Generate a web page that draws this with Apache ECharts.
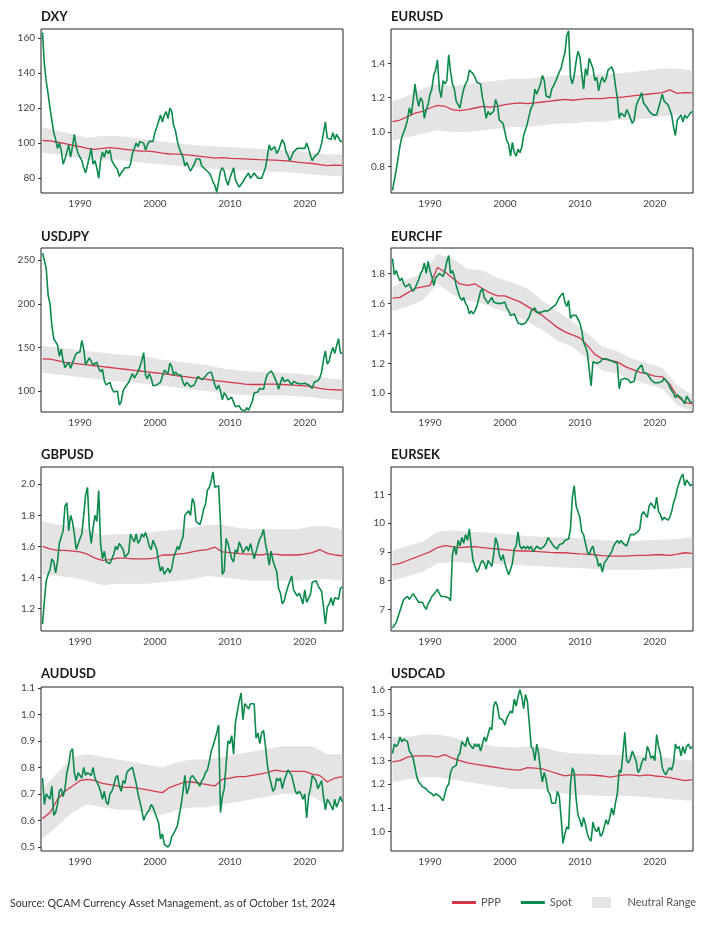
<!DOCTYPE html>
<html>
<head>
<meta charset="utf-8">
<script src="https://cdn.jsdelivr.net/npm/echarts@6/dist/echarts.min.js"></script>
<style>
  html, body { margin: 0; padding: 0; background: #fff; }
  #main { width: 716px; height: 925px; }
</style>
</head>
<body>
<div id="main"></div>
<script>
// quarterly spot samples 1985.00 .. 2025.00, annual PPP 1985..2025, biennial band 1985..2025
var yearTicks = [1990, 2000, 2010, 2020];

var dxySpot = [
  163, 145, 135, 128, 120, 113, 106, 102,   // 85-86
  97, 100, 96, 88, 91, 95, 99, 92,          // 87-88
  98, 105, 98, 94, 93, 90, 86, 83,          // 89-90
  82, 92, 97, 88, 90, 86, 80, 90,           // 91-92
  95, 92, 96, 94, 96, 90, 88, 87,           // 93-94
  85, 81, 83, 84, 86, 87, 86, 88,           // 95-96
  94, 97, 100, 98, 101, 102, 100, 96,       // 97-98
  99, 101, 102, 101, 106, 109, 110, 116,    // 99-00
  112, 116, 118, 114, 120, 118, 110, 107,   // 01-02
  101, 97, 96, 92, 87, 89, 88, 84,          // 03-04
  84, 88, 91, 90, 91, 87, 86, 85,           // 05-06
  85, 83, 81, 78, 76, 72, 73, 84,           // 07-08
  86, 84, 79, 76, 80, 83, 86, 79,           // 09-10
  78, 75, 74, 78, 80, 80, 83, 80,           // 11-12
  80, 83, 82, 80, 81, 80, 81, 86,           // 13-14
  92, 99, 96, 97, 98, 94, 96, 99,           // 15-16
  102, 100, 95, 93, 90, 90, 95, 96,         // 17-18
  97, 97, 97, 98, 97, 100, 97, 93,          // 19-20
  90, 92, 92, 94, 96, 100, 106, 112,        // 21-22
  103, 102, 102, 106, 102, 105, 105, 101,   // 23-24
  101
];
var dxyPpp = [
  101.5, 101.3, 100.5, 99.7, 98.8,
  98, 97, 96.5, 97, 97.5,
  97, 96.5, 96, 95.5, 95.5,
  95, 94.3, 93.8, 93.7, 93.5,
  93, 92.5, 92, 91.5, 91.8,
  91.3, 91.2, 91, 90.8, 90.6,
  90.5, 90.3, 90, 89.7, 89.2,
  88.8, 88.4, 87.8, 87.2, 87.5,
  87.3
];
var dxyLo = [94.5, 93.5, 92, 90.5, 90.5, 90.5, 89.5, 88.5, 88, 87, 86.5, 85.5, 85, 84.5, 84.5, 84, 83.5, 83, 82, 81.5, 81];
var dxyHi = [109, 107, 105, 103, 104, 104, 103, 102, 101, 100, 99, 98.5, 98, 97.5, 97, 96.5, 96, 95.5, 94.5, 93.5, 93.5];
var dxyTicks = [80, 100, 120, 140, 160];

var eurusdSpot = [
  0.66, 0.72, 0.78, 0.85, 0.92, 0.97, 1.00, 1.03,   // 85-86
  1.07, 1.14, 1.10, 1.18, 1.28, 1.20, 1.15, 1.20,   // 87-88
  1.18, 1.08, 1.13, 1.16, 1.22, 1.25, 1.33, 1.36,   // 89-90
  1.42, 1.25, 1.20, 1.30, 1.28, 1.30, 1.45, 1.35,   // 91-92
  1.28, 1.25, 1.18, 1.16, 1.14, 1.20, 1.25, 1.28,   // 93-94
  1.30, 1.36, 1.35, 1.34, 1.32, 1.29, 1.30, 1.28,   // 95-96
  1.20, 1.15, 1.08, 1.12, 1.10, 1.10, 1.12, 1.19,   // 97-98
  1.16, 1.07, 1.07, 1.05, 1.00, 0.95, 0.93, 0.86,   // 99-00
  0.94, 0.88, 0.86, 0.90, 0.88, 0.91, 0.98, 0.98,   // 01-02
  1.05, 1.10, 1.14, 1.16, 1.25, 1.22, 1.22, 1.28,   // 03-04
  1.33, 1.30, 1.21, 1.20, 1.20, 1.25, 1.27, 1.27,   // 05-06
  1.32, 1.35, 1.37, 1.42, 1.46, 1.56, 1.59, 1.32,   // 07-08
  1.28, 1.33, 1.41, 1.47, 1.44, 1.34, 1.25, 1.37,   // 09-10
  1.33, 1.43, 1.44, 1.37, 1.30, 1.32, 1.24, 1.29,   // 11-12
  1.32, 1.29, 1.31, 1.36, 1.37, 1.38, 1.35, 1.27,   // 13-14
  1.20, 1.08, 1.11, 1.12, 1.09, 1.13, 1.11, 1.11,   // 15-16
  1.05, 1.07, 1.15, 1.18, 1.20, 1.23, 1.17, 1.16,   // 17-18
  1.14, 1.12, 1.13, 1.10, 1.11, 1.10, 1.14, 1.18,   // 19-20
  1.22, 1.18, 1.19, 1.16, 1.13, 1.10, 1.03, 0.98,   // 21-22
  1.07, 1.08, 1.10, 1.06, 1.10, 1.08, 1.08, 1.11,   // 23-24
  1.12
];
var eurusdPpp = [
  1.06, 1.07, 1.09, 1.11, 1.12,
  1.14, 1.155, 1.15, 1.13, 1.125,
  1.13, 1.14, 1.15, 1.145, 1.15,
  1.16, 1.165, 1.17, 1.165, 1.17,
  1.175, 1.18, 1.185, 1.19, 1.185,
  1.19, 1.195, 1.195, 1.195, 1.2,
  1.2, 1.205, 1.21, 1.215, 1.22,
  1.225, 1.23, 1.245, 1.225, 1.23,
  1.228
];
var eurusdLo = [0.95, 0.97, 0.99, 1.01, 1.0, 1.0, 1.01, 1.02, 1.03, 1.03, 1.04, 1.05, 1.05, 1.06, 1.06, 1.07, 1.07, 1.08, 1.09, 1.1, 1.1];
var eurusdHi = [1.18, 1.21, 1.25, 1.28, 1.27, 1.28, 1.29, 1.3, 1.31, 1.31, 1.32, 1.33, 1.33, 1.33, 1.34, 1.34, 1.35, 1.36, 1.37, 1.37, 1.36];
var eurusdTicks = [0.8, 1.0, 1.2, 1.4];

var usdjpySpot = [
  258, 250, 240, 210, 200, 175, 160, 160,   // 85-86
  153, 140, 148, 135, 127, 125, 133, 126,   // 87-88
  128, 138, 143, 142, 145, 158, 148, 130,   // 89-90
  134, 138, 140, 130, 128, 133, 126, 122,   // 91-92
  125, 112, 107, 106, 110, 103, 99, 98,     // 93-94
  100, 84, 88, 100, 104, 107, 110, 112,     // 95-96
  120, 115, 115, 122, 128, 135, 144, 118,   // 97-98
  114, 120, 115, 106, 105, 107, 107, 110,   // 99-00
  117, 124, 124, 120, 132, 128, 118, 122,   // 01-02
  119, 118, 118, 110, 106, 110, 110, 105,   // 03-04
  104, 107, 112, 117, 116, 113, 115, 117,   // 05-06
  120, 120, 122, 115, 107, 102, 107, 100,   // 07-08
  90, 98, 95, 90, 91, 93, 87, 82,           // 09-10
  82, 83, 79, 77, 77, 81, 78, 80,           // 11-12
  88, 98, 99, 99, 103, 102, 102, 112,       // 13-14
  119, 120, 123, 120, 118, 110, 102, 104,   // 15-16
  116, 111, 112, 113, 111, 107, 111, 113,   // 17-18
  109, 111, 108, 108, 109, 108, 107, 105,   // 19-20
  103, 110, 110, 112, 115, 122, 136, 146,   // 21-22
  131, 134, 144, 150, 143, 152, 160, 144,   // 23-24
  143
];
var usdjpyPpp = [
  137, 136.5, 135, 133, 132,
  131, 130, 129, 128, 127,
  126, 125, 124, 123, 122,
  121, 120, 119, 117.5, 116.5,
  115.5, 114.5, 113.5, 112, 111,
  110, 109, 108, 107.5, 107.5,
  108, 108, 107.5, 107, 106.5,
  106, 105, 103, 102, 101.5,
  101
];
var usdjpyLo = [121, 119, 117, 115, 113, 111, 110, 108, 106, 104, 102, 100, 97, 96, 95, 95, 95, 94, 93, 91, 90];
var usdjpyHi = [152, 150, 148, 146, 144, 142, 141, 139, 136, 134, 132, 130, 126, 124, 122, 122, 121, 120, 118, 115, 113];
var usdjpyTicks = [100, 150, 200, 250];

var eurchfSpot = [
  1.90, 1.79, 1.82, 1.78, 1.75, 1.77, 1.73, 1.71,   // 85-86
  1.70, 1.73, 1.70, 1.68, 1.70, 1.71, 1.76, 1.80,   // 87-88
  1.82, 1.87, 1.80, 1.88, 1.82, 1.78, 1.72, 1.77,   // 89-90
  1.76, 1.80, 1.81, 1.78, 1.82, 1.88, 1.92, 1.80,   // 91-92
  1.82, 1.78, 1.72, 1.68, 1.64, 1.62, 1.64, 1.60,   // 93-94
  1.58, 1.53, 1.55, 1.53, 1.55, 1.58, 1.57, 1.68,   // 95-96
  1.70, 1.64, 1.62, 1.60, 1.62, 1.64, 1.61, 1.62,   // 97-98
  1.60, 1.60, 1.60, 1.60, 1.61, 1.57, 1.55, 1.52,   // 99-00
  1.53, 1.53, 1.52, 1.47, 1.47, 1.46, 1.46, 1.47,   // 01-02
  1.46, 1.51, 1.55, 1.56, 1.57, 1.54, 1.53, 1.54,   // 03-04
  1.55, 1.55, 1.55, 1.55, 1.56, 1.57, 1.57, 1.59,   // 05-06
  1.61, 1.64, 1.65, 1.67, 1.61, 1.58, 1.62, 1.50,   // 07-08
  1.52, 1.51, 1.52, 1.51, 1.47, 1.42, 1.34, 1.31,   // 09-10
  1.27, 1.26, 1.05, 1.21, 1.21, 1.20, 1.20, 1.21,   // 11-12
  1.23, 1.24, 1.23, 1.23, 1.22, 1.22, 1.21, 1.20,   // 13-14
  1.20, 1.03, 1.09, 1.09, 1.10, 1.09, 1.09, 1.07,   // 15-16
  1.07, 1.08, 1.14, 1.16, 1.17, 1.19, 1.14, 1.13,   // 17-18
  1.13, 1.12, 1.09, 1.10, 1.07, 1.06, 1.07, 1.07,   // 19-20
  1.08, 1.10, 1.09, 1.07, 1.04, 1.03, 1.00, 0.97,   // 21-22
  0.99, 0.99, 0.97, 0.96, 0.93, 0.98, 0.96, 0.94,   // 23-24
  0.94
];
var eurchfPpp = [
  1.635, 1.64, 1.67, 1.70, 1.71,
  1.72, 1.84, 1.81, 1.77, 1.73,
  1.72, 1.73, 1.70, 1.67, 1.65,
  1.65, 1.63, 1.61, 1.58, 1.55,
  1.52, 1.48, 1.44, 1.41, 1.39,
  1.37, 1.32, 1.26, 1.23, 1.22,
  1.21, 1.18, 1.16, 1.14, 1.13,
  1.115, 1.11, 1.06, 0.98, 0.94,
  0.93
];
var eurchfLo = [1.55, 1.58, 1.62, 1.73, 1.66, 1.62, 1.60, 1.56, 1.53, 1.48, 1.42, 1.35, 1.31, 1.23, 1.15, 1.13, 1.09, 1.06, 1.03, 0.92, 0.88];
var eurchfHi = [1.71, 1.76, 1.80, 1.93, 1.90, 1.83, 1.82, 1.77, 1.74, 1.70, 1.62, 1.55, 1.48, 1.40, 1.31, 1.28, 1.23, 1.20, 1.17, 1.05, 0.99];
var eurchfTicks = [1.0, 1.2, 1.4, 1.6, 1.8];

var gbpusdSpot = [
  1.10, 1.25, 1.38, 1.42, 1.45, 1.52, 1.50, 1.43,   // 85-86
  1.50, 1.62, 1.62, 1.70, 1.86, 1.88, 1.70, 1.80,   // 87-88
  1.76, 1.68, 1.58, 1.57, 1.65, 1.68, 1.80, 1.93,   // 89-90
  1.98, 1.72, 1.62, 1.72, 1.80, 1.76, 1.96, 1.62,   // 91-92
  1.52, 1.57, 1.50, 1.50, 1.49, 1.52, 1.55, 1.60,   // 93-94
  1.58, 1.62, 1.60, 1.58, 1.53, 1.52, 1.56, 1.68,   // 95-96
  1.65, 1.63, 1.68, 1.62, 1.64, 1.68, 1.66, 1.69,   // 97-98
  1.65, 1.60, 1.58, 1.64, 1.61, 1.58, 1.50, 1.44,   // 99-00
  1.47, 1.42, 1.41, 1.46, 1.43, 1.46, 1.53, 1.56,   // 01-02
  1.60, 1.58, 1.63, 1.66, 1.80, 1.80, 1.83, 1.80,   // 03-04
  1.91, 1.88, 1.76, 1.76, 1.74, 1.78, 1.84, 1.87,   // 05-06
  1.96, 1.98, 2.02, 2.08, 1.98, 1.98, 1.99, 1.75,   // 07-08
  1.42, 1.44, 1.65, 1.62, 1.61, 1.52, 1.50, 1.58,   // 09-10
  1.56, 1.63, 1.60, 1.56, 1.56, 1.60, 1.57, 1.62,   // 11-12
  1.61, 1.52, 1.52, 1.61, 1.65, 1.67, 1.71, 1.62,   // 13-14
  1.56, 1.48, 1.57, 1.51, 1.47, 1.44, 1.33, 1.30,   // 15-16
  1.23, 1.25, 1.30, 1.34, 1.35, 1.41, 1.32, 1.30,   // 17-18
  1.28, 1.30, 1.27, 1.23, 1.32, 1.24, 1.24, 1.29,   // 19-20
  1.37, 1.38, 1.38, 1.35, 1.35, 1.31, 1.21, 1.10,   // 21-22
  1.21, 1.23, 1.27, 1.22, 1.27, 1.26, 1.26, 1.33,   // 23-24
  1.34
];
var gbpusdPpp = [
  1.60, 1.585, 1.575, 1.575, 1.57,
  1.565, 1.55, 1.525, 1.51, 1.515,
  1.525, 1.525, 1.52, 1.52, 1.52,
  1.525, 1.545, 1.545, 1.55, 1.555,
  1.565, 1.575, 1.58, 1.595, 1.565,
  1.56, 1.555, 1.55, 1.55, 1.545,
  1.55, 1.55, 1.545, 1.545, 1.545,
  1.55, 1.56, 1.58, 1.555, 1.545,
  1.54
];
var gbpusdLo = [1.42, 1.41, 1.40, 1.38, 1.35, 1.36, 1.36, 1.36, 1.37, 1.38, 1.39, 1.41, 1.40, 1.39, 1.38, 1.38, 1.38, 1.38, 1.39, 1.39, 1.38];
var gbpusdHi = [1.76, 1.74, 1.73, 1.71, 1.67, 1.68, 1.68, 1.69, 1.70, 1.71, 1.72, 1.74, 1.74, 1.72, 1.71, 1.71, 1.71, 1.71, 1.73, 1.73, 1.71];
var gbpusdTicks = [1.2, 1.4, 1.6, 1.8, 2.0];

var eursekSpot = [
  6.35, 6.45, 6.55, 6.75, 6.95, 7.15, 7.35, 7.40,     // 85-86
  7.45, 7.35, 7.40, 7.55, 7.50, 7.35, 7.25, 7.20,     // 87-88
  7.25, 7.10, 7.00, 7.20, 7.30, 7.45, 7.40, 7.60,     // 89-90
  7.70, 7.55, 7.45, 7.50, 7.45, 7.45, 7.40, 7.30,     // 91-92
  8.90, 9.20, 8.90, 9.40, 9.20, 9.50, 9.30, 9.60,     // 93-94
  9.40, 9.80, 9.20, 8.70, 8.50, 8.30, 8.40, 8.60,     // 95-96
  8.70, 8.60, 8.40, 8.70, 8.60, 8.50, 8.90, 9.50,     // 97-98
  9.30, 8.90, 8.70, 8.90, 8.60, 8.40, 8.20, 8.40,     // 99-00
  8.60, 9.10, 9.20, 9.70, 9.20, 9.10, 9.20, 9.10,     // 01-02
  9.20, 9.10, 9.20, 9.00, 9.10, 9.20, 9.20, 9.10,     // 03-04
  9.05, 9.20, 9.30, 9.50, 9.40, 9.30, 9.20, 9.25,     // 05-06
  9.10, 9.25, 9.25, 9.30, 9.40, 9.35, 9.45, 9.80,     // 07-08
  10.90, 11.30, 10.60, 10.40, 10.20, 9.70, 9.60, 9.30, // 09-10
  9.00, 8.90, 9.10, 9.20, 8.90, 8.80, 8.50, 8.60,     // 11-12
  8.30, 8.60, 8.60, 8.80, 8.90, 9.00, 9.20, 9.30,     // 13-14
  9.40, 9.30, 9.40, 9.30, 9.30, 9.20, 9.40, 9.60,     // 15-16
  9.60, 9.60, 9.60, 9.70, 9.80, 10.30, 10.40, 10.30,  // 17-18
  10.20, 10.60, 10.70, 10.60, 10.50, 10.90, 10.40, 10.30, // 19-20
  10.10, 10.20, 10.20, 10.10, 10.20, 10.40, 10.70, 10.90, // 21-22
  11.20, 11.40, 11.60, 11.70, 11.30, 11.50, 11.40, 11.30, // 23-24
  11.35
];
var eursekPpp = [
  8.55, 8.6, 8.7, 8.8, 8.9,
  9.0, 9.15, 9.22, 9.18, 9.15,
  9.17, 9.18, 9.15, 9.12, 9.1,
  9.08, 9.05, 9.03, 9.03, 9.02,
  9.0, 8.98, 8.97, 8.97, 8.95,
  8.93, 8.92, 8.9, 8.87, 8.85,
  8.85, 8.85, 8.87, 8.88, 8.88,
  8.9, 8.9, 8.88, 8.92, 8.97,
  8.95
];
var eursekLo = [8.0, 8.15, 8.3, 8.6, 8.65, 8.62, 8.6, 8.58, 8.55, 8.52, 8.5, 8.47, 8.45, 8.42, 8.38, 8.37, 8.37, 8.38, 8.4, 8.42, 8.45];
var eursekHi = [9.05, 9.2, 9.35, 9.7, 9.75, 9.7, 9.68, 9.65, 9.6, 9.55, 9.52, 9.5, 9.5, 9.45, 9.4, 9.38, 9.38, 9.4, 9.42, 9.45, 9.52];
var eursekTicks = [7, 8, 9, 10, 11];

var audusdSpot = [
  0.76, 0.66, 0.70, 0.70, 0.68, 0.73, 0.62, 0.63,   // 85-86
  0.66, 0.71, 0.72, 0.69, 0.72, 0.78, 0.81, 0.86,   // 87-88
  0.87, 0.78, 0.75, 0.78, 0.78, 0.76, 0.80, 0.77,   // 89-90
  0.78, 0.78, 0.77, 0.80, 0.76, 0.76, 0.73, 0.71,   // 91-92
  0.68, 0.71, 0.67, 0.66, 0.70, 0.71, 0.73, 0.76,   // 93-94
  0.77, 0.73, 0.71, 0.75, 0.74, 0.78, 0.79, 0.79,   // 95-96
  0.80, 0.77, 0.74, 0.70, 0.67, 0.64, 0.60, 0.62,   // 97-98
  0.63, 0.64, 0.66, 0.65, 0.65, 0.61, 0.59, 0.53,   // 99-00
  0.55, 0.51, 0.51, 0.50, 0.51, 0.54, 0.55, 0.55,   // 01-02
  0.58, 0.62, 0.66, 0.71, 0.77, 0.70, 0.72, 0.76,   // 03-04
  0.77, 0.76, 0.75, 0.74, 0.73, 0.75, 0.76, 0.78,   // 05-06
  0.79, 0.82, 0.86, 0.88, 0.88, 0.93, 0.96, 0.63,   // 07-08
  0.69, 0.72, 0.81, 0.90, 0.89, 0.92, 0.85, 0.97,   // 09-10
  1.01, 1.05, 1.08, 0.98, 1.04, 1.03, 1.02, 1.04,   // 11-12
  1.04, 1.04, 0.91, 0.93, 0.89, 0.93, 0.94, 0.88,   // 13-14
  0.81, 0.77, 0.74, 0.71, 0.72, 0.76, 0.75, 0.76,   // 15-16
  0.72, 0.75, 0.77, 0.79, 0.78, 0.77, 0.74, 0.71,   // 17-18
  0.70, 0.71, 0.70, 0.68, 0.70, 0.61, 0.69, 0.72,   // 19-20
  0.77, 0.76, 0.75, 0.72, 0.72, 0.75, 0.69, 0.64,   // 21-22
  0.68, 0.67, 0.67, 0.64, 0.68, 0.65, 0.67, 0.69,   // 23-24
  0.67
];
var audusdPpp = [
  0.607, 0.63, 0.68, 0.71, 0.73,
  0.75, 0.755, 0.75, 0.74, 0.735,
  0.73, 0.725, 0.725, 0.72, 0.715,
  0.71, 0.705, 0.725, 0.735, 0.745,
  0.745, 0.74, 0.735, 0.73, 0.755,
  0.76, 0.765, 0.765, 0.77, 0.775,
  0.78, 0.79, 0.785, 0.785, 0.785,
  0.785, 0.775, 0.77, 0.745, 0.76,
  0.765
];
var audusdLo = [0.53, 0.58, 0.63, 0.66, 0.65, 0.64, 0.64, 0.63, 0.62, 0.64, 0.65, 0.65, 0.66, 0.67, 0.68, 0.69, 0.70, 0.70, 0.69, 0.66, 0.68];
var audusdHi = [0.72, 0.78, 0.84, 0.85, 0.84, 0.83, 0.82, 0.81, 0.80, 0.82, 0.83, 0.83, 0.84, 0.85, 0.86, 0.87, 0.88, 0.88, 0.88, 0.85, 0.85];
var audusdTicks = [0.5, 0.6, 0.7, 0.8, 0.9, 1.0, 1.1];

var usdcadSpot = [
  1.33, 1.37, 1.36, 1.37, 1.40, 1.38, 1.39, 1.39,   // 85-86
  1.38, 1.34, 1.33, 1.31, 1.27, 1.23, 1.21, 1.20,   // 87-88
  1.19, 1.19, 1.18, 1.17, 1.17, 1.16, 1.15, 1.16,   // 89-90
  1.16, 1.15, 1.15, 1.13, 1.16, 1.19, 1.20, 1.25,   // 91-92
  1.27, 1.27, 1.28, 1.32, 1.33, 1.38, 1.38, 1.36,   // 93-94
  1.40, 1.37, 1.36, 1.35, 1.37, 1.36, 1.37, 1.34,   // 95-96
  1.37, 1.40, 1.38, 1.41, 1.44, 1.43, 1.53, 1.55,   // 97-98
  1.53, 1.48, 1.48, 1.47, 1.45, 1.48, 1.48, 1.51,   // 99-00
  1.50, 1.56, 1.53, 1.57, 1.60, 1.57, 1.52, 1.58,   // 01-02
  1.55, 1.46, 1.36, 1.35, 1.30, 1.37, 1.33, 1.26,   // 03-04
  1.21, 1.25, 1.22, 1.17, 1.16, 1.12, 1.12, 1.12,   // 05-06
  1.17, 1.15, 1.06, 0.95, 0.99, 1.02, 1.01, 1.20,   // 07-08
  1.27, 1.25, 1.14, 1.07, 1.05, 1.02, 1.06, 1.03,   // 09-10
  0.99, 0.97, 0.96, 1.04, 1.01, 1.00, 1.02, 0.98,   // 11-12
  0.99, 1.02, 1.05, 1.03, 1.06, 1.10, 1.07, 1.12,   // 13-14
  1.16, 1.26, 1.25, 1.33, 1.42, 1.30, 1.29, 1.31,   // 15-16
  1.34, 1.34, 1.30, 1.25, 1.26, 1.29, 1.31, 1.30,   // 17-18
  1.36, 1.34, 1.31, 1.32, 1.30, 1.41, 1.36, 1.33,   // 19-20
  1.27, 1.25, 1.24, 1.26, 1.27, 1.26, 1.29, 1.37,   // 21-22
  1.35, 1.36, 1.32, 1.36, 1.33, 1.36, 1.37, 1.35,   // 23-24
  1.36
];
var usdcadPpp = [
  1.295, 1.30, 1.315, 1.32, 1.32,
  1.32, 1.315, 1.325, 1.31, 1.30,
  1.29, 1.285, 1.28, 1.275, 1.27,
  1.265, 1.262, 1.26, 1.27, 1.268,
  1.265, 1.255, 1.245, 1.235, 1.24,
  1.24, 1.24, 1.238, 1.235, 1.23,
  1.235, 1.24, 1.24, 1.235, 1.24,
  1.235, 1.232, 1.228, 1.222, 1.215,
  1.22
];
var usdcadLo = [1.21, 1.22, 1.23, 1.23, 1.22, 1.21, 1.2, 1.19, 1.18, 1.18, 1.18, 1.165, 1.155, 1.155, 1.15, 1.15, 1.15, 1.145, 1.14, 1.135, 1.13];
var usdcadHi = [1.40, 1.40, 1.41, 1.41, 1.40, 1.38, 1.37, 1.36, 1.355, 1.36, 1.355, 1.34, 1.33, 1.33, 1.325, 1.325, 1.325, 1.32, 1.315, 1.305, 1.30];
var usdcadTicks = [1.0, 1.1, 1.2, 1.3, 1.4, 1.5, 1.6];

// x positions of the samples
var spotYears = [];
for (var k = 0; k <= 160; k++) spotYears.push(1985 + k / 4);
var pppYears = [];
for (var y = 1985; y <= 2025; y++) pppYears.push(y);
var bandYears = [];
for (var b = 1985; b <= 2025; b += 2) bandYears.push(b);

var GREEN = '#0b8a4c';
var RED = '#d23a4b';
var BAND = '#e4e4e4';
var FONT = 'Lato, "Noto Sans", sans-serif';

var panels = [
  { name: 'DXY',    spot: dxySpot,    ppp: dxyPpp,    lo: dxyLo,    hi: dxyHi,    ticks: dxyTicks,    min: 71.6,  max: 165,   dec: 0 },
  { name: 'EURUSD', spot: eurusdSpot, ppp: eurusdPpp, lo: eurusdLo, hi: eurusdHi, ticks: eurusdTicks, min: 0.645, max: 1.6,   dec: 1 },
  { name: 'USDJPY', spot: usdjpySpot, ppp: usdjpyPpp, lo: usdjpyLo, hi: usdjpyHi, ticks: usdjpyTicks, min: 76,    max: 264,   dec: 0 },
  { name: 'EURCHF', spot: eurchfSpot, ppp: eurchfPpp, lo: eurchfLo, hi: eurchfHi, ticks: eurchfTicks, min: 0.875, max: 1.97,  dec: 1 },
  { name: 'GBPUSD', spot: gbpusdSpot, ppp: gbpusdPpp, lo: gbpusdLo, hi: gbpusdHi, ticks: gbpusdTicks, min: 1.056, max: 2.111, dec: 1 },
  { name: 'EURSEK', spot: eursekSpot, ppp: eursekPpp, lo: eursekLo, hi: eursekHi, ticks: eursekTicks, min: 6.25,  max: 11.95, dec: 0 },
  { name: 'AUDUSD', spot: audusdSpot, ppp: audusdPpp, lo: audusdLo, hi: audusdHi, ticks: audusdTicks, min: 0.485, max: 1.103, dec: 1 },
  { name: 'USDCAD', spot: usdcadSpot, ppp: usdcadPpp, lo: usdcadLo, hi: usdcadHi, ticks: usdcadTicks, min: 0.918, max: 1.611, dec: 1 }
];

var colLeft = [41, 391];
var rowTop = [29, 248, 467, 687];
var titleTop = [10, 230, 448, 667];

var chart = echarts.init(document.getElementById('main'), null, { renderer: 'canvas' });

var grids = [], xAxes = [], yAxes = [], series = [], titles = [];

panels.forEach(function (p, i) {
  var col = i % 2, row = Math.floor(i / 2);
  grids.push({
    left: colLeft[col], top: rowTop[row], width: 302, height: 164,
    show: true, borderColor: '#222', borderWidth: 1, backgroundColor: '#fff'
  });
  titles.push({
    text: p.name, left: colLeft[col], top: titleTop[row], padding: 0,
    textStyle: { fontFamily: FONT, fontSize: 13, fontWeight: 'bold', color: '#1a1a1a' }
  });
  xAxes.push({
    type: 'value', gridIndex: i, min: 1984.8, max: 2025.1,
    splitLine: { show: false }, axisLine: { show: false }, axisTick: { show: false },
    axisLabel: {
      customValues: yearTicks, fontFamily: FONT, fontSize: 10, color: '#444', margin: 6,
      formatter: function (v) { return String(Math.round(v)); }
    }
  });
  yAxes.push({
    type: 'value', gridIndex: i, min: p.min, max: p.max,
    splitLine: { show: false }, axisLine: { show: false },
    axisTick: { show: true, length: 3, customValues: p.ticks, lineStyle: { color: '#333' } },
    axisLabel: {
      customValues: p.ticks, fontFamily: FONT, fontSize: 10, color: '#444', margin: 6,
      formatter: (function (d) { return function (v) { return Number(v).toFixed(d); }; })(p.dec)
    }
  });

  var rows = bandYears.map(function (yr, j) { return [yr, p.lo[j], p.hi[j]]; });
  series.push({
    type: 'custom', name: 'Neutral Range', xAxisIndex: i, yAxisIndex: i,
    data: rows, silent: true, z: 1,
    itemStyle: { color: BAND },
    renderItem: function (params, api) {
      if (params.dataIndex !== 0) return;
      var up = rows.map(function (r) { return api.coord([r[0], r[2]]); });
      var dn = rows.map(function (r) { return api.coord([r[0], r[1]]); }).reverse();
      return { type: 'polygon', shape: { points: up.concat(dn) }, style: { fill: BAND } };
    }
  });
  series.push({
    type: 'line', name: 'PPP', xAxisIndex: i, yAxisIndex: i, z: 3,
    data: pppYears.map(function (yr, j) { return [yr, p.ppp[j]]; }),
    symbol: 'none', silent: true,
    itemStyle: { color: RED }, lineStyle: { color: RED, width: 1.3 }
  });
  series.push({
    type: 'line', name: 'Spot', xAxisIndex: i, yAxisIndex: i, z: 4,
    data: spotYears.map(function (yr, j) { return [yr, p.spot[j]]; }),
    symbol: 'none', silent: true,
    itemStyle: { color: GREEN }, lineStyle: { color: GREEN, width: 1.6 }
  });
});

titles.push({
  text: 'Source: QCAM Currency Asset Management, as of October 1st, 2024',
  left: 10, top: 898, padding: 0,
  textStyle: { fontFamily: FONT, fontSize: 10.7, fontWeight: 'normal', color: '#333' }
});

chart.setOption({
  animation: false,
  backgroundColor: '#fff',
  title: titles,
  grid: grids,
  xAxis: xAxes,
  yAxis: yAxes,
  legend: {
    left: 452, top: 897, padding: 0,
    selectedMode: false,
    itemWidth: 24, itemHeight: 11, itemGap: 20,
    textStyle: { fontFamily: FONT, fontSize: 11, color: '#555' },
    data: [
      { name: 'PPP', icon: 'path://M0 0H24V3H0Z' },
      { name: 'Spot', icon: 'path://M0 0H24V3H0Z' },
      { name: 'Neutral Range', icon: 'path://M0 0H19V11H0Z', textStyle: { padding: [0, 0, 0, 9] } }
    ]
  },
  series: series
});
</script>
</body>
</html>
